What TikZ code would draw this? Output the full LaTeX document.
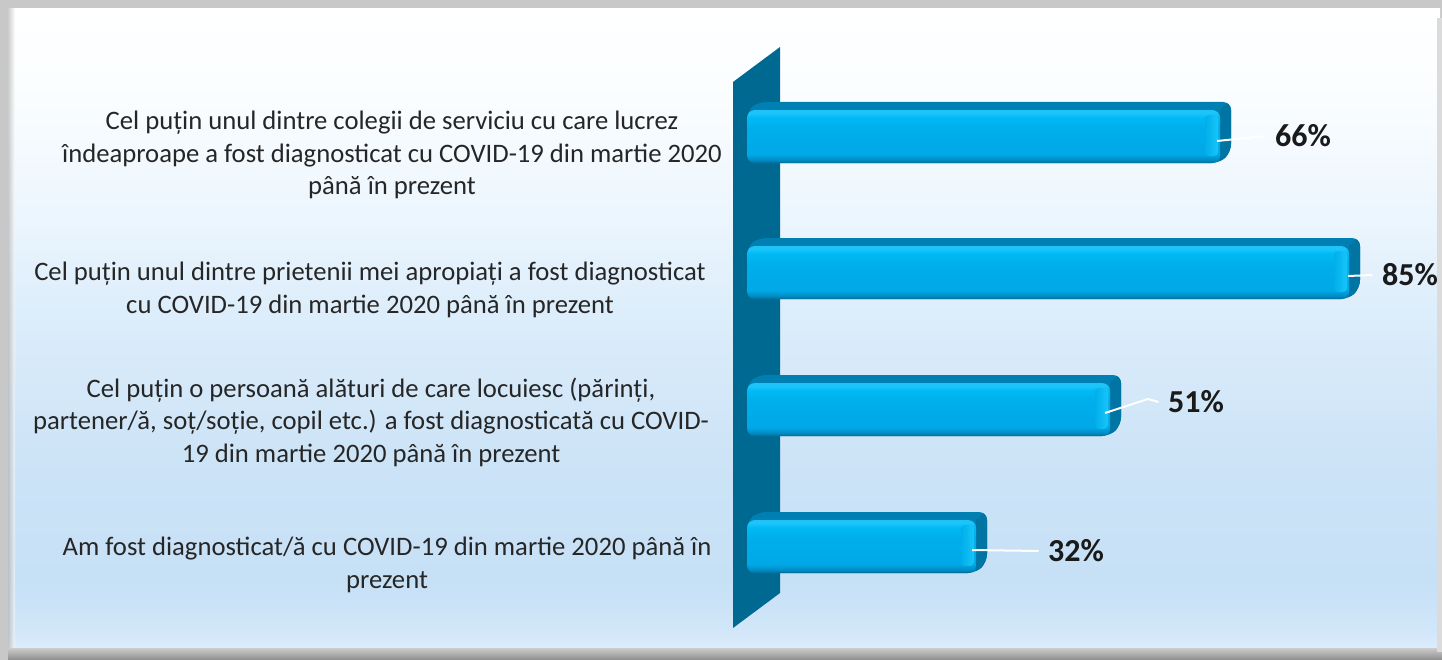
\documentclass[tikz,border=0pt]{standalone}
\usepackage{fontspec}
\setmainfont{Carlito}
\definecolor{outergray}{RGB}{200,200,200}
\definecolor{wallc}{RGB}{0,105,146}
\definecolor{bartopc}{RGB}{0,128,178}
\definecolor{barsidec}{RGB}{0,116,162}
\definecolor{frontc}{RGB}{0,174,234}
\definecolor{hilitec}{RGB}{24,198,250}
\definecolor{labtext}{RGB}{38,38,38}
\definecolor{pcttext}{RGB}{26,26,26}
\definecolor{pg0}{RGB}{255,255,255}
\definecolor{pg1}{RGB}{250,253,255}
\definecolor{pg2}{RGB}{238,247,254}
\definecolor{pg3}{RGB}{222,238,251}
\definecolor{pg4}{RGB}{205,228,247}
\definecolor{pg5}{RGB}{198,224,246}
\definecolor{pg6}{RGB}{210,231,249}
\definecolor{pg7}{RGB}{222,238,252}
\definecolor{b0}{RGB}{0,106,150}
\definecolor{b1}{RGB}{0,136,192}
\definecolor{b2}{RGB}{0,168,230}
\definecolor{b3}{RGB}{0,174,236}
\definecolor{b4}{RGB}{0,186,244}
\definecolor{b5}{RGB}{28,196,250}
\pgfdeclareverticalshading{panelbg}{100bp}{color(0bp)=(pg7); color(25bp)=(pg7); color(26.5bp)=(pg6); color(30.5bp)=(pg5); color(40.6bp)=(pg4); color(52.3bp)=(pg3); color(60.2bp)=(pg2); color(68bp)=(pg1); color(75bp)=(pg0); color(100bp)=(pg0)}
\pgfdeclareverticalshading{barfront}{100bp}{color(0bp)=(b0); color(25bp)=(b0); color(27.5bp)=(b1); color(33bp)=(b2); color(58bp)=(b3); color(68bp)=(b4); color(72bp)=(b5); color(75bp)=(b5); color(100bp)=(b5)}
\tikzset{
  lab/.style={align=center, text=labtext, font=\fontsize{20pt}{24.4pt}\selectfont, inner sep=0pt},
  pct/.style={text=pcttext, font=\fontsize{24pt}{28pt}\selectfont\bfseries, inner xsep=7pt, inner ysep=0pt},
  leader/.style={draw=white, line width=1.5pt},
}
\newcommand{\drawbar}[2]{%
  \begin{scope}
    \clip[rounded corners=6pt] (747,#1+9) -- (758,#1) -- (#2,#1) -- (#2,#1+50) -- (#2-11,#1+61) -- (747,#1+61) -- cycle;
    \fill[bartopc] (740,#1-3) rectangle (#2+3,#1+64);
    \fill[barsidec] (#2-11,#1+8) -- (#2,#1-3) -- (#2+3,#1-3) -- (#2+3,#1+64) -- (#2-11,#1+64) -- cycle;
  \end{scope}
  \shade[shading=barfront, rounded corners=6pt] (747,#1+8) rectangle (#2-11,#1+61);
  \shade[left color=frontc, right color=hilitec, rounded corners=3pt] (#2-26,#1+13) rectangle (#2-13,#1+54);
}
\begin{document}
\begin{tikzpicture}[x=0.75pt,y=-0.75pt]
\useasboundingbox (0,0) rectangle (1442,660);
\fill[outergray] (0,0) rectangle (1442,660);
\shade[shading=panelbg] (8,9) rectangle (1440,652);
% bevels
\shade[left color=black!32, right color=white!0, opacity=0.6] (8,9) rectangle (15,652);
\shade[top color=black!20, bottom color=black!45] (8,648) rectangle (1442,660);
\fill[black!14] (1437,18) rectangle (1442,652);
% wall
\fill[wallc] (733,82) -- (780,47) -- (780,593) -- (733,628) -- cycle;
% bars
\drawbar{102}{1231}
\drawbar{238}{1360}
\drawbar{375}{1121}
\drawbar{512}{987}
% category labels
\node[lab] (l1) at (392,155) {Cel puțin unul dintre colegii de serviciu cu care lucrez\\îndeaproape a fost diagnosticat cu COVID-19 din martie 2020\\până în prezent};
\node[lab] (l2) at (370,290) {Cel puțin unul dintre prietenii mei apropiați a fost diagnosticat\\cu COVID-19 din martie 2020 până în prezent};
\node[lab] (l3) at (371,422) {Cel puțin o persoană alături de care locuiesc (părinți,\\partener/ă, soț/soție, copil etc.) a fost diagnosticată cu COVID-\\19 din martie 2020 până în prezent};
\node[lab] (l4) at (387,565) {Am fost diagnosticat/ă cu COVID-19 din martie 2020 până în\\prezent};
% value labels
\node[pct] (p1) at (1303,136) {66\%};
\node[pct] (p2) at (1410,275) {85\%};
\node[pct] (p3) at (1196,402) {51\%};
\node[pct] (p4) at (1076,551) {32\%};
% leaders
\coordinate (e1) at (1217,141);
\coordinate (e2) at (1348,276);
\coordinate (e3) at (1105,413);
\coordinate (e4) at (972,550);
\draw[leader] (e1) -- (p1.west);
\draw[leader] (e2) -- (p2.west);
\draw[leader] (e3) -- (1148,399) -- (p3.west);
\draw[leader] (e4) -- (p4.west);
\end{tikzpicture}
\end{document}
